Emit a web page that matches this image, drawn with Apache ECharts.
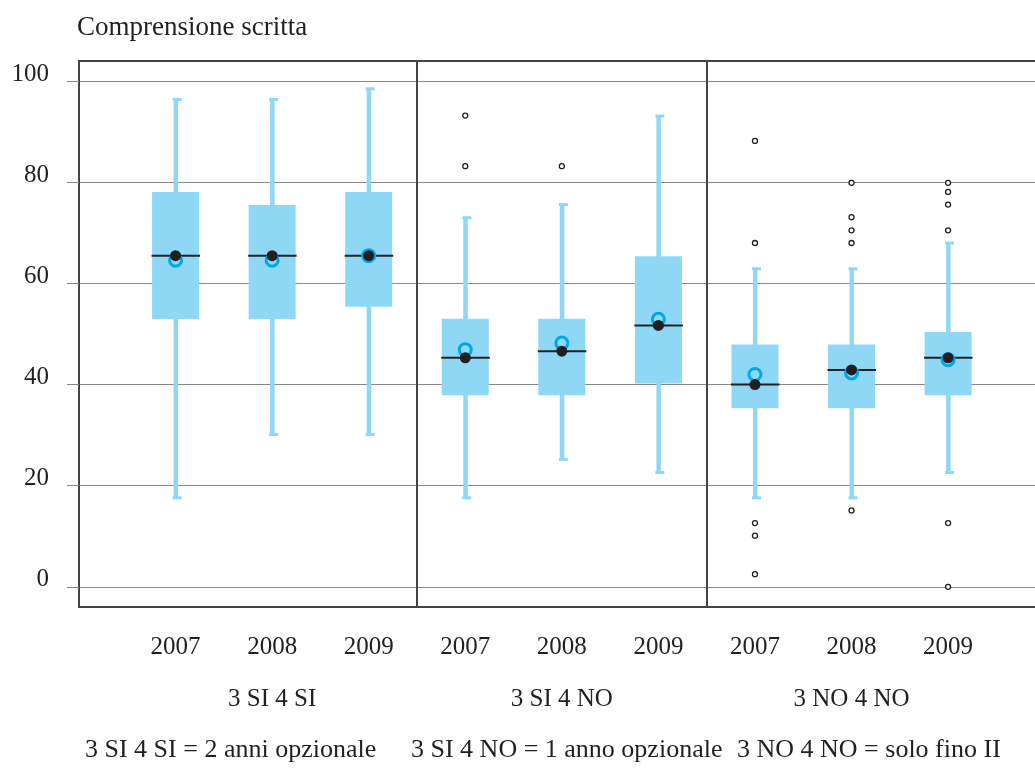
<!DOCTYPE html>
<html>
<head>
<meta charset="utf-8">
<script src="https://cdn.jsdelivr.net/npm/echarts@6/dist/echarts.min.js"></script>
<style>
html,body{margin:0;padding:0;background:#fff;}
#chart{width:1035px;height:768px;}
</style>
</head>
<body>
<div id="chart"></div>
<script>
// ---- data ----
const titleText = 'Comprensione scritta';
const years = ['2007','2008','2009','2007','2008','2009','2007','2008','2009'];
const groups = ['3 SI 4 SI','3 SI 4 NO','3 NO 4 NO'];
const groupCenterIndex = [2, 5, 8];
const footnotes = ['3 SI 4 SI = 2 anni opzionale','3 SI 4 NO = 1 anno opzionale','3 NO 4 NO = solo fino II'];
const yTicks = [0, 20, 40, 60, 80, 100];
const whiskerLow  = [17.6, 30.1, 30.1, 17.6, 25.2, 22.6, 17.6, 17.6, 22.6];
const q1          = [52.9, 52.9, 55.4, 37.9, 37.9, 40.2, 35.3, 35.3, 37.9];
const median      = [65.5, 65.5, 65.5, 45.3, 46.6, 51.7, 40.0, 42.9, 45.3];
const q3          = [78.1, 75.5, 78.1, 53.0, 53.0, 65.4, 47.9, 47.9, 50.4];
const whiskerHigh = [96.4, 96.4, 98.5, 73.0, 75.6, 93.1, 62.9, 62.9, 68.0];
const means       = [64.6, 64.6, 65.5, 46.9, 48.2, 52.9, 42.0, 42.3, 44.9];
const outliers = [
  [], [], [],
  [93.2, 83.2], [83.2], [],
  [88.2, 68.0, 12.6, 10.1, 2.5],
  [79.9, 73.1, 70.5, 68.0, 15.1],
  [79.9, 78.1, 75.6, 70.5, 12.6, 0.0]
];
const panelDividers = [3.5, 6.5];

// ---- build ----
const BLUE = '#8ED8F6';
const RING = '#00A9E6';
const DARK = '#231F20';
const FONT = '"Liberation Serif", "Times New Roman", serif';

const boxData = years.map((y, i) => [i + 1, whiskerLow[i], q1[i], median[i], q3[i], whiskerHigh[i]]);
const meanData = means.map((v, i) => [i + 1, v]);
const medianData = median.map((v, i) => [i + 1, v]);
const outlierData = [];
outliers.forEach((arr, i) => arr.forEach(v => outlierData.push([i + 1, v])));

const chart = echarts.init(document.getElementById('chart'));
chart.setOption({
  animation: false,
  backgroundColor: '#fff',
  grid: { left: 79, right: 0, top: 61, bottom: 161 },
  xAxis: [
    {
      type: 'value', min: 0, max: 9.9, position: 'bottom',
      axisLine: { show: true, onZero: false, lineStyle: { color: '#444', width: 2 } },
      axisTick: { show: false },
      splitLine: { show: false },
      axisLabel: {
        customValues: years.map((y, i) => i + 1),
        formatter: v => years[Math.round(v) - 1] || '',
        margin: 28, fontSize: 25, fontFamily: FONT, color: DARK
      }
    },
    {
      type: 'value', min: 0, max: 9.9, position: 'bottom', offset: 50,
      axisLine: { show: false, onZero: false }, axisTick: { show: false }, splitLine: { show: false },
      axisLabel: {
        customValues: groupCenterIndex,
        formatter: v => groups[groupCenterIndex.indexOf(Math.round(v))] || '',
        margin: 30, fontSize: 25, fontFamily: FONT, color: DARK
      }
    },
    {
      type: 'value', min: 0, max: 9.9, position: 'top',
      axisLine: { show: true, onZero: false, lineStyle: { color: '#444', width: 2 } },
      axisTick: { show: false }, splitLine: { show: false }, axisLabel: { show: false }
    }
  ],
  yAxis: {
    type: 'value', min: -4, max: 104,
    axisLine: { show: true, onZero: false, lineStyle: { color: '#444', width: 2 } },
    axisTick: { show: true, length: 12, customValues: yTicks, lineStyle: { color: '#888', width: 1 } },
    splitLine: { show: true, lineStyle: { color: '#888', width: 1 } },
    axisLabel: {
      customValues: yTicks, margin: 30, fontSize: 25, fontFamily: FONT, color: DARK,
      verticalAlign: 'bottom', lineHeight: 14
    }
  },
  graphic: [
    { type: 'text', x: 77, y: 28, style: { text: titleText, font: '27px ' + FONT, fill: DARK, verticalAlign: 'middle', align: 'left' } },
    ...footnotes.map((t, i) => ({
      type: 'text', x: 85 + i * 326, y: 750,
      style: { text: t, font: '26px ' + FONT, fill: DARK, verticalAlign: 'middle', align: 'left' }
    }))
  ],
  series: [
    {
      type: 'custom',
      data: boxData,
      encode: { x: 0, y: [1, 2, 3, 4, 5] },
      z: 2,
      renderItem: function (params, api) {
        const x = api.value(0);
        const lo = api.coord([x, api.value(1)]);
        const b1 = api.coord([x, api.value(2)]);
        const md = api.coord([x, api.value(3)]);
        const b3 = api.coord([x, api.value(4)]);
        const hi = api.coord([x, api.value(5)]);
        const cx = lo[0];
        return {
          type: 'group',
          children: [
            { type: 'rect', shape: { x: cx - 2, y: hi[1], width: 4.5, height: lo[1] - hi[1] }, style: { fill: BLUE } },
            { type: 'rect', shape: { x: cx - 3, y: hi[1] - 1.5, width: 9, height: 3 }, style: { fill: BLUE } },
            { type: 'rect', shape: { x: cx - 3, y: lo[1] - 1.5, width: 9, height: 3 }, style: { fill: BLUE } },
            { type: 'rect', shape: { x: cx - 23.5, y: b3[1], width: 47, height: b1[1] - b3[1] }, style: { fill: BLUE } },
            { type: 'line', shape: { x1: cx - 24, y1: md[1], x2: cx + 24.5, y2: md[1] }, style: { stroke: DARK, lineWidth: 2 } }
          ]
        };
      },
      markLine: {
        silent: true, symbol: 'none', label: { show: false },
        lineStyle: { color: '#444', width: 2, type: 'solid' },
        data: panelDividers.map(v => ({ xAxis: v }))
      }
    },
    {
      type: 'scatter', data: meanData, z: 3,
      symbol: 'circle', symbolSize: 12,
      itemStyle: { color: 'rgba(0,0,0,0)', borderColor: RING, borderWidth: 3, opacity: 1 }
    },
    {
      type: 'scatter', data: medianData, z: 4,
      symbol: 'circle', symbolSize: 11,
      itemStyle: { color: DARK, opacity: 1 }
    },
    {
      type: 'scatter', data: outlierData, z: 4,
      symbol: 'circle', symbolSize: 5,
      itemStyle: { color: '#fff', borderColor: DARK, borderWidth: 1.3, opacity: 1 }
    }
  ]
});
</script>
</body>
</html>
